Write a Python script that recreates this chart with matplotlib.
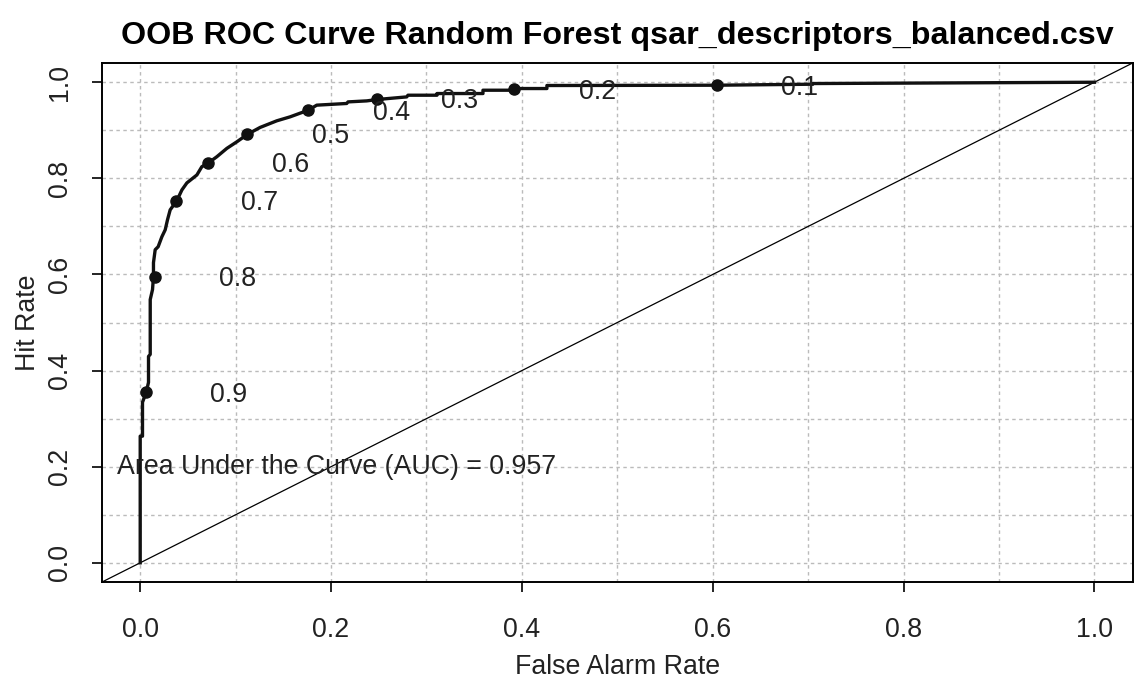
import numpy as np
from matplotlib import pyplot as plt

plt.rcParams['font.family'] = ['Liberation Sans', 'DejaVu Sans']

# ROC curve (false alarm rate, hit rate)
far = [0, 0, 0.0024, 0.0024, 0.0063, 0.0087, 0.0087, 0.0105, 0.0105, 0.0129,
       0.0139, 0.0139, 0.0157, 0.0188, 0.0227, 0.0262, 0.0286, 0.0314, 0.0384,
       0.0437, 0.0489, 0.0594, 0.0646, 0.0709, 0.0803, 0.0908, 0.1013, 0.1128,
       0.1257, 0.1431, 0.1571, 0.1762, 0.1850, 0.2164, 0.2178, 0.2374, 0.2485,
       0.2793, 0.2806, 0.3110, 0.3110, 0.3592, 0.3592, 0.3906, 0.3906, 0.4262,
       0.4262, 0.6042, 0.7047, 0.7047, 1.0]
hit = [0, 0.2635, 0.2635, 0.3340, 0.3548, 0.3755, 0.4295, 0.4336, 0.5477, 0.5685,
       0.5954, 0.6245, 0.6515, 0.6577, 0.6784, 0.6929, 0.7137, 0.7344, 0.7537,
       0.7759, 0.7905, 0.8071, 0.8243, 0.8313, 0.8450, 0.8624, 0.8761, 0.8921,
       0.9060, 0.9197, 0.9280, 0.9419, 0.9523, 0.9558, 0.9591, 0.9612, 0.9641,
       0.9695, 0.9730, 0.9730, 0.9765, 0.9765, 0.9834, 0.9834, 0.9869, 0.9869,
       0.9932, 0.9938, 0.9959, 0.9973, 1.0]

thresholds = ["0.1", "0.2", "0.3", "0.4", "0.5", "0.6", "0.7", "0.8", "0.9"]
thr_far = [0.604, 0.392, 0.248, 0.176, 0.112, 0.071, 0.038, 0.015, 0.006]
thr_hit = [0.994, 0.985, 0.965, 0.942, 0.893, 0.832, 0.753, 0.595, 0.355]

auc_text = "Area Under the Curve (AUC) = 0.957"
title = "OOB ROC Curve Random Forest qsar_descriptors_balanced.csv"

fs = 19.3

fig = plt.figure(figsize=(11.35, 6.82), dpi=100)
ax = fig.add_axes([0.0899, 0.1466, 0.908, 0.761])
ax.set_xlim(-0.04, 1.04)
ax.set_ylim(-0.04, 1.04)

# dotted grid every 0.1
for v in np.arange(0, 1.01, 0.1):
    ax.axvline(v, color='#bbbbbb', lw=1.0, ls=(0, (2.5, 2.5)), zorder=0)
    ax.axhline(v, color='#bbbbbb', lw=1.0, ls=(0, (2.5, 2.5)), zorder=0)

# no-skill diagonal
ax.plot([-0.04, 1.04], [-0.04, 1.04], color='black', lw=0.9, zorder=1)

ax.plot(far, hit, color='#111111', lw=2.4, zorder=2)
ax.plot(thr_far, thr_hit, 'o', color='#111111', ms=8, zorder=3)
for t, x, y in zip(thresholds, thr_far, thr_hit):
    ax.text(x + 0.087, y - 0.005, t, ha='center', va='center', fontsize=fs, color='#222222')

ax.text(0.206, 0.2, auc_text, ha='center', va='center', fontsize=fs, color='#222222')

ticks = [0.0, 0.2, 0.4, 0.6, 0.8, 1.0]
ax.set_xticks(ticks)
ax.set_yticks(ticks)
ax.set_xticklabels([f"{t:.1f}" for t in ticks], fontsize=fs, color='#222222')
ax.set_yticklabels([f"{t:.1f}" for t in ticks], fontsize=fs, color='#222222',
                   rotation=90, va='center')
ax.tick_params(length=7, width=1.2)
ax.tick_params(axis='x', pad=18)
ax.tick_params(axis='y', pad=14)
for s in ax.spines.values():
    s.set_linewidth(1.4)

ax.set_xlabel("False Alarm Rate", fontsize=fs, color='#222222', labelpad=8)
ax.set_ylabel("Hit Rate", fontsize=fs, color='#222222', labelpad=4)
ax.set_title(title, fontsize=23.2, fontweight='bold', pad=14)

fig.savefig("out.png", dpi=100)
